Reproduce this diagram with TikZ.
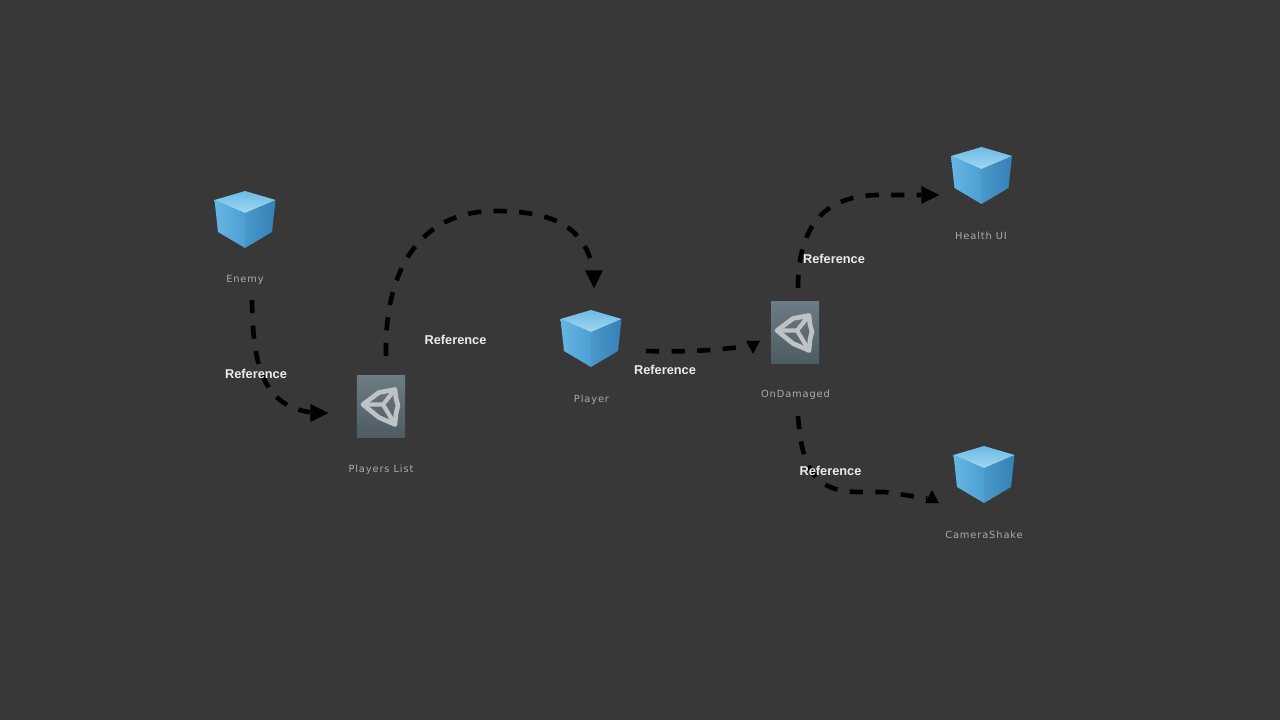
\documentclass[tikz,border=0pt]{standalone}
\usepackage{fontspec}
\setmainfont{Liberation Sans}
\newfontfamily\assetfont[LetterSpace=9]{DejaVu Sans}
\usetikzlibrary{shapes.geometric, arrows.meta, positioning}
\definecolor{editorbg}{HTML}{383838}
\definecolor{assetgray}{HTML}{ABABAB}
\definecolor{logogray}{HTML}{BFC3C5}
\definecolor{iconA}{HTML}{6D7C84}
\definecolor{iconB}{HTML}{4D5B63}
\definecolor{cubeA}{HTML}{66B6E3}
\definecolor{cubeB}{HTML}{4C9FD4}
\definecolor{cubeC}{HTML}{4A98CA}
\definecolor{cubeD}{HTML}{3580B8}
\definecolor{cubeE}{HTML}{A0D8F2}
\definecolor{cubeF}{HTML}{6CBAE5}
\tikzset{
  assettext/.style={font=\assetfont\fontsize{7pt}{8pt}\selectfont, text=assetgray, inner sep=0pt},
  reftext/.style={font=\bfseries\fontsize{9.1pt}{10pt}\selectfont, text=white!92!black, inner sep=0pt},
  refline/.style={black, line width=3.3pt, dash pattern=on 9.4pt off 8.8pt},
  headbig/.style={isosceles triangle, isosceles triangle stretches, fill=black, inner sep=0pt,
                  minimum height=0.45cm, minimum width=0.45cm},
  headsmall/.style={headbig, minimum height=0.33cm, minimum width=0.35cm},
  iconbox/.style={inner sep=0pt, minimum width=1.2cm, minimum height=1.525cm,
                  top color=iconA, bottom color=iconB},
  cubebox/.style={inner sep=0pt, minimum width=1.525cm, minimum height=1.425cm},
  cubeicon/.pic={
    % left face
    \shade[left color=cubeA, right color=cubeB]
      (-30.5,-19.5) -- (0,-6.5) -- (0,28.5) -- (-27,12.5) -- cycle;
    % right face
    \shade[left color=cubeC, right color=cubeD]
      (30.5,-19.5) -- (0,-6.5) -- (0,28.5) -- (27,12.5) -- cycle;
    % top face
    \shade[bottom color=cubeE, top color=cubeF]
      (0,-28.5) -- (30.5,-19.5) -- (0,-6.5) -- (-30.5,-19.5) -- cycle;
  },
  unitylogo/.pic={
    \draw[logogray, line width=3.3pt, line join=round]
      (-18,-2) -- (-2,-14) -- (14,-17) -- (15,-8) -- (17,-1) -- (15,7) -- (14,18) -- (-2,11) -- cycle;
    \draw[logogray, line width=3pt]
      (-18,-2) -- (2,-2) -- (14,-17) (2,-2) -- (14,18);
  },
}
\begin{document}
\begin{tikzpicture}[x=0.025cm, y=-0.025cm]
  \fill[editorbg] (0,0) rectangle (1280,720);
  % Cubos
  \node[cubebox] (enemy) at (245,219.5) {};
  \node[cubebox] (player) at (591,338.5) {};
  \node[cubebox] (healthui) at (981.5,175.5) {};
  \node[cubebox] (camerashake) at (984,474.5) {};
  \pic at (enemy) {cubeicon};
  \pic at (player) {cubeicon};
  \pic at (healthui) {cubeicon};
  \pic at (camerashake) {cubeicon};
  % Blocos de script
  \node[iconbox] (playerslist) at (381,406.5) {};
  \node[iconbox] (ondamaged) at (795,332.5) {};
  \pic at (playerslist) {unitylogo};
  \pic at (ondamaged) {unitylogo};
  % Nomes
  \node[assettext] (enemytxt) at (245,280) {Enemy};
  \node[assettext] (playerslisttxt) at (381,469.5) {Players List};
  \node[assettext] (playertxt) at (591.5,399.5) {Player};
  \node[assettext] (ondamagedtxt) at (795.5,395) {OnDamaged};
  \node[assettext] (healthuitxt) at (981,236) {Health UI};
  \node[assettext] (camerashaketxt) at (984,535) {CameraShake};
  % Pontas
  \node[headbig] (headlist) at (316,413) {};
  \node[headbig, shape border rotate=-90] (headplayer) at (594,276) {};
  \node[headsmall, shape border rotate=-90] (headdamaged) at (753,345) {};
  \node[headbig] (headhealth) at (927,195) {};
  \node[headsmall, shape border rotate=90] (headcamera) at (932,499) {};
  % Pontos de partida
  \coordinate (enemyout) at (252,300);
  \coordinate (listout) at (386,356);
  \coordinate (playerout) at (646,351);
  \coordinate (damagedup) at (798,288);
  \coordinate (damageddown) at (798,416);
  % Setas
  \draw[refline] (enemyout) .. controls (253,355) and (258,405) .. (headlist);
  \draw[refline] (listout) .. controls (384,270) and (420,211) .. (495,211)
    .. controls (550,211) and (585,225) .. (headplayer);
  \draw[refline] (playerout) .. controls (680,352) and (715,351) .. (headdamaged);
  \draw[refline] (damagedup) .. controls (798,225) and (825,195) .. (880,195) -- (headhealth);
  \draw[refline] (damageddown) .. controls (802,470) and (815,492) .. (860,492) -- (885,492) -- (headcamera);
  % Rotulos
  \node[reftext] (ref1) at (256,374) {Reference};
  \node[reftext] (ref2) at (455.5,340) {Reference};
  \node[reftext] (ref3) at (665,370) {Reference};
  \node[reftext] (ref4) at (834,259) {Reference};
  \node[reftext] (ref5) at (830.5,470.5) {Reference};
\end{tikzpicture}
\end{document}
